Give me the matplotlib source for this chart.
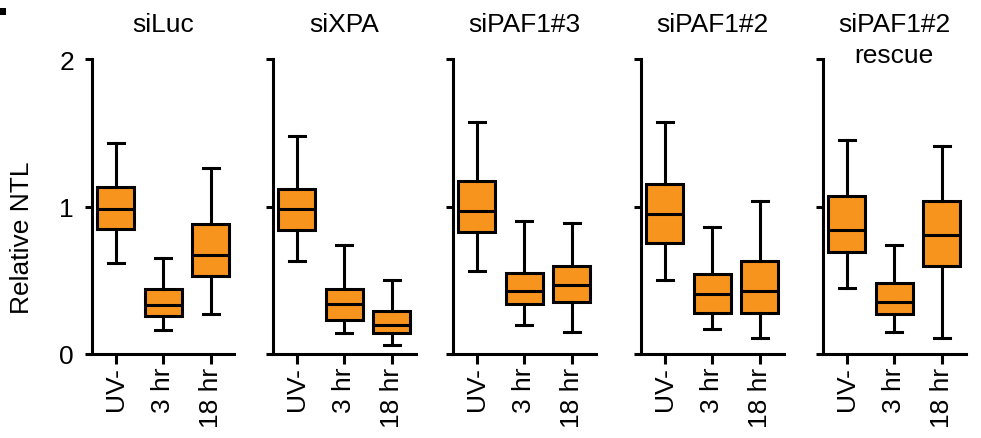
import matplotlib
matplotlib.use('Agg')
import matplotlib.pyplot as plt
from matplotlib.patches import Rectangle

plt.rcParams['font.family'] = ['Liberation Sans', 'DejaVu Sans']

# Daten: whislo, q1, med, q3, whishi
groups = ['UV-', '3 hr', '18 hr']
titles = ['siLuc', 'siXPA', 'siPAF1#3', 'siPAF1#2', 'siPAF1#2\nrescue']

siLuc = [(0.62, 0.85, 0.98, 1.13, 1.43),
         (0.16, 0.26, 0.33, 0.44, 0.65),
         (0.27, 0.53, 0.67, 0.88, 1.26)]
siXPA = [(0.63, 0.84, 0.98, 1.12, 1.48),
         (0.14, 0.23, 0.34, 0.44, 0.74),
         (0.06, 0.14, 0.20, 0.29, 0.50)]
siPAF1_3 = [(0.56, 0.83, 0.97, 1.17, 1.57),
            (0.20, 0.34, 0.43, 0.55, 0.90),
            (0.15, 0.35, 0.47, 0.60, 0.89)]
siPAF1_2 = [(0.50, 0.75, 0.95, 1.15, 1.57),
            (0.17, 0.28, 0.41, 0.54, 0.86),
            (0.11, 0.28, 0.43, 0.63, 1.04)]
siPAF1_2_rescue = [(0.45, 0.69, 0.84, 1.07, 1.45),
                   (0.15, 0.27, 0.35, 0.48, 0.74),
                   (0.11, 0.60, 0.81, 1.04, 1.41)]

panels = [siLuc, siXPA, siPAF1_3, siPAF1_2, siPAF1_2_rescue]

W, H = 981, 439
fig = plt.figure(figsize=(W / 100, H / 100), dpi=100)

orange = '#F7941D'
lw = 2.2
fs = 19

# Achsenpositionen in Pixeln (linke Kante)
lefts = [92, 273, 453, 641, 823]
ax_w = 142.5
ax_top, ax_bot = 60, 355
ax_h = ax_bot - ax_top

for i, (title, data) in enumerate(zip(titles, panels)):
    ax = fig.add_axes([lefts[i] / W, 1 - ax_bot / H, ax_w / W, ax_h / H])
    stats = []
    for g, (lo, q1, med, q3, hi) in zip(groups, data):
        stats.append(dict(label=g, whislo=lo, q1=q1, med=med, q3=q3, whishi=hi, fliers=[]))
    ax.bxp(stats, positions=[1, 2, 3], widths=0.78, capwidths=0.34,
           patch_artist=True, showfliers=False,
           boxprops=dict(facecolor=orange, edgecolor='black', linewidth=lw),
           medianprops=dict(color='black', linewidth=lw),
           whiskerprops=dict(color='black', linewidth=lw),
           capprops=dict(color='black', linewidth=lw))

    ax.set_xlim(0.5, 3.5)
    ax.set_ylim(0, 2)
    ax.set_yticks([0, 1, 2])
    for s in ['top', 'right']:
        ax.spines[s].set_visible(False)
    for s in ['left', 'bottom']:
        ax.spines[s].set_linewidth(lw)
    ax.tick_params(axis='y', length=5, width=lw, pad=8, labelsize=fs)
    ax.tick_params(axis='x', length=7, width=lw, pad=2, labelsize=fs)
    ax.set_xticks([1, 2, 3])
    ax.set_xticklabels(groups, rotation=90)
    if i > 0:
        ax.set_yticklabels([])
    # Titel zeilenweise, erste Grundlinie 28 px ueber der Achse
    for k, line in enumerate(title.split('\n')):
        ax.text(0.5, 1 + (28 - 31 * k) / ax_h, line, transform=ax.transAxes,
                ha='center', va='baseline', fontsize=fs)

fig.text(22 / W, 1 - 238 / H, 'Relative NTL', rotation=90, ha='center', va='center', fontsize=fs)

# abgeschnittener Panelbuchstabe oben links
fig.patches.append(Rectangle((0, 1 - 16 / H), 6 / W, 7 / H, transform=fig.transFigure,
                             facecolor='black', edgecolor='none'))

fig.savefig('out.png', dpi=100)
